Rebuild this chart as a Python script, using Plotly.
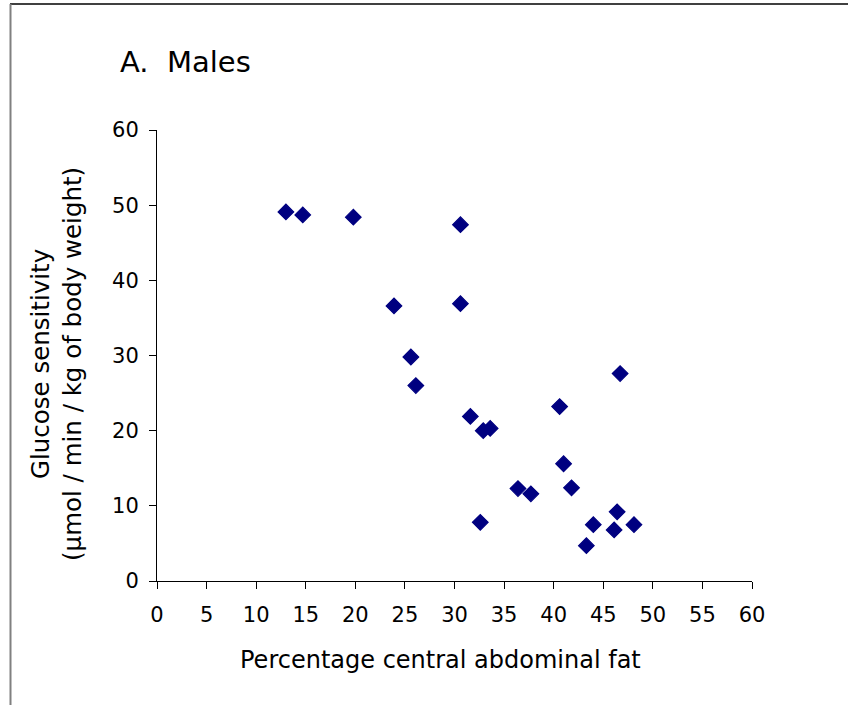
import plotly.graph_objects as go

# Data
abdominal_fat = [13.0, 14.7, 19.8, 30.6, 23.9, 30.6, 25.6, 26.1, 31.6, 32.9, 33.6, 32.6,
                 36.4, 37.7, 40.6, 41.0, 41.8, 43.3, 44.0, 46.4, 46.1, 48.1, 46.7]
glucose_sens = [49.1, 48.7, 48.4, 47.4, 36.6, 36.9, 29.8, 26.0, 21.9, 20.0, 20.3, 7.8,
                12.3, 11.6, 23.2, 15.6, 12.4, 4.7, 7.5, 9.2, 6.8, 7.5, 27.6]
x_ticks = list(range(0, 61, 5))
y_ticks = list(range(0, 61, 10))

W, H = 848, 705
L, R, T, B = 157, 96, 130, 124
pw, ph = W - L - R, H - T - B

def px(xp):
    return (xp - L) / pw

def py(yp):
    return (H - B - yp) / ph

FONT = "DejaVu Sans"

fig = go.Figure()
fig.add_trace(go.Scatter(
    x=abdominal_fat, y=glucose_sens, mode="markers",
    marker=dict(symbol="diamond", size=12, color="#000080",
                line=dict(color="#000080", width=1.2)),
    showlegend=False, hoverinfo="x+y",
))

axis_common = dict(
    showgrid=False, zeroline=False, showline=True, linecolor="black", linewidth=1,
    ticks="outside", ticklen=7, tickwidth=1, tickcolor="black",
    tickfont=dict(family=FONT, size=21, color="black"),
    fixedrange=True,
)

fig.update_layout(
    width=W, height=H,
    margin=dict(l=L, r=R, t=T, b=B, autoexpand=False),
    paper_bgcolor="white", plot_bgcolor="white",
    xaxis=dict(range=[0, 60], tickvals=x_ticks, ticklabelstandoff=8, **axis_common),
    yaxis=dict(range=[0, 60], tickvals=y_ticks, ticklabelstandoff=6, **axis_common),
    annotations=[
        dict(text="A.  Males", xref="paper", yref="paper", x=px(118), y=py(62),
             xanchor="left", yanchor="middle", showarrow=False,
             font=dict(family=FONT, size=29, color="black")),
        dict(text="Percentage central abdominal fat", xref="paper", yref="paper",
             x=px(440), y=py(660), xanchor="center", yanchor="middle", showarrow=False,
             font=dict(family=FONT, size=24, color="black")),
        dict(text="Glucose sensitivity<br>(\u03bcmol / min / kg of body weight)",
             xref="paper", yref="paper", x=px(56), y=py(364), textangle=-90,
             xanchor="center", yanchor="middle", showarrow=False,
             font=dict(family=FONT, size=24.5, color="black")),
    ],
    shapes=[
        dict(type="line", xref="paper", yref="paper", x0=px(10), x1=px(848),
             y0=py(4), y1=py(4), line=dict(color="black", width=1.5)),
        dict(type="line", xref="paper", yref="paper", x0=px(10.5), x1=px(10.5),
             y0=py(4), y1=py(705), line=dict(color="#808080", width=2)),
    ],
)

fig.write_html("out.html")
